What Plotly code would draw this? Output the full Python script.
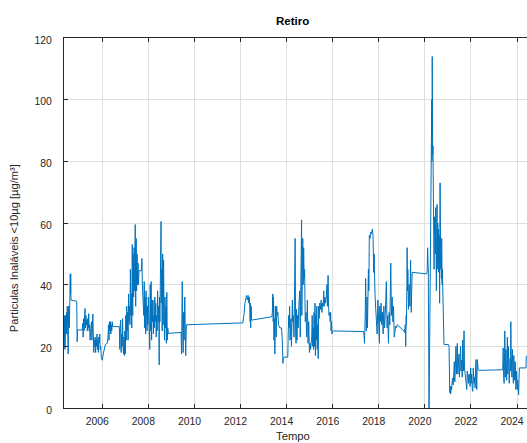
import plotly.graph_objects as go

# Readings (decimal year, PM10 in µg/m³) per period
p2004_2006 = [
    (2004.33, 27), (2004.34, 20), (2004.35, 29), (2004.36, 22), (2004.37, 30), (2004.38, 19),
    (2004.39, 27), (2004.40, 25), (2004.41, 30), (2004.42, 24), (2004.43, 28), (2004.44, 26),
    (2004.45, 31), (2004.46, 24), (2004.47, 28), (2004.48, 33), (2004.49, 25), (2004.50, 29),
    (2004.51, 22), (2004.52, 17.5), (2004.53, 26), (2004.54, 33), (2004.55, 28), (2004.56, 30),
    (2004.57, 26), (2004.58, 34), (2004.59, 38), (2004.60, 36), (2004.61, 43.5), (2004.62, 37),
    (2004.63, 43.5), (2004.64, 36), (2004.65, 35), (2004.89, 34.6), (2004.90, 28), (2004.91, 21.5),
    (2004.92, 25.3), (2005.13, 25.3), (2005.15, 27.5), (2005.17, 23), (2005.19, 29), (2005.21, 25),
    (2005.23, 28), (2005.25, 32.3), (2005.27, 26), (2005.29, 30), (2005.31, 27), (2005.33, 28.5),
    (2005.35, 25), (2005.37, 29), (2005.39, 26), (2005.41, 30.6), (2005.43, 25), (2005.45, 27),
    (2005.47, 22), (2005.49, 26), (2005.51, 24), (2005.53, 28), (2005.55, 22), (2005.57, 27),
    (2005.59, 30.5), (2005.61, 24), (2005.63, 18), (2005.65, 22), (2005.67, 20), (2005.69, 23),
    (2005.71, 18), (2005.73, 22.5), (2005.75, 20), (2005.77, 24), (2005.79, 19), (2005.81, 22),
    (2005.83, 18), (2005.85, 23), (2005.87, 21), (2005.89, 24), (2005.91, 19), (2005.93, 20),
    (2005.96, 16.3), (2006.00, 15.5), (2006.03, 17), (2006.06, 18.5), (2006.09, 19.5), (2006.13, 20.5),
    (2006.17, 20.8), (2006.22, 21), (2006.25, 23), (2006.27, 27), (2006.29, 22), (2006.31, 28),
    (2006.33, 25), (2006.35, 28), (2006.37, 24), (2006.39, 27), (2006.41, 25), (2006.43, 28),
    (2006.45, 26.4), (2006.74, 26.4),
]

p2006_2009 = [
    (2006.76, 19), (2006.78, 27), (2006.80, 28.5), (2006.82, 18), (2006.84, 24), (2006.86, 20),
    (2006.88, 29), (2006.90, 21), (2006.92, 17.5), (2006.94, 23), (2006.96, 17), (2006.98, 25),
    (2007.00, 17.6), (2007.02, 30), (2007.04, 22), (2007.06, 33), (2007.08, 25), (2007.10, 31),
    (2007.12, 22), (2007.14, 37), (2007.16, 28), (2007.18, 33), (2007.20, 27), (2007.22, 45),
    (2007.24, 30), (2007.26, 37), (2007.28, 26), (2007.30, 53), (2007.32, 30), (2007.34, 50),
    (2007.36, 36), (2007.38, 52), (2007.40, 38), (2007.43, 59.5), (2007.45, 33), (2007.47, 55),
    (2007.49, 38), (2007.51, 50), (2007.53, 40), (2007.55, 47), (2007.57, 40), (2007.59, 44.5),
    (2007.70, 44.5), (2007.72, 48.5), (2007.74, 40), (2007.76, 33), (2007.78, 36), (2007.80, 30),
    (2007.82, 41), (2007.84, 26), (2007.86, 36), (2007.88, 24), (2007.90, 38), (2007.92, 30),
    (2007.94, 25), (2007.96, 33), (2007.98, 27), (2008.00, 36), (2008.02, 24), (2008.04, 31),
    (2008.06, 19), (2008.08, 40), (2008.10, 25), (2008.12, 41), (2008.14, 22), (2008.16, 35),
    (2008.18, 28), (2008.20, 35), (2008.22, 24), (2008.24, 30), (2008.26, 26), (2008.28, 36),
    (2008.30, 28), (2008.32, 34), (2008.34, 23), (2008.36, 30), (2008.38, 25), (2008.40, 38),
    (2008.42, 28), (2008.44, 33), (2008.46, 25), (2008.47, 14), (2008.48, 36), (2008.50, 28),
    (2008.52, 38), (2008.55, 60.5), (2008.56, 34), (2008.58, 45), (2008.60, 25), (2008.62, 50),
    (2008.64, 27), (2008.66, 48), (2008.68, 32), (2008.70, 22), (2008.72, 36), (2008.74, 26),
    (2008.76, 33), (2008.78, 21), (2008.80, 37.5), (2008.82, 22), (2008.84, 26), (2008.87, 24.2),
    (2009.42, 24.5), (2009.44, 17.5), (2009.47, 41), (2009.49, 27), (2009.51, 18), (2009.53, 31),
    (2009.55, 22), (2009.58, 36), (2009.60, 20), (2009.62, 17), (2009.64, 25), (2009.66, 27),
]

p2012 = [
    (2012.10, 27.6), (2012.13, 29), (2012.16, 31), (2012.19, 34), (2012.22, 36), (2012.26, 36.5),
    (2012.30, 35), (2012.33, 36.5), (2012.36, 34), (2012.38, 36), (2012.40, 33), (2012.42, 28),
    (2012.43, 34), (2012.44, 26), (2012.46, 33), (2012.48, 28.5),
]

p2013_2016 = [
    (2013.36, 29.6), (2013.38, 31), (2013.40, 37), (2013.42, 28), (2013.43, 36), (2013.45, 22),
    (2013.47, 29), (2013.49, 17.5), (2013.51, 33), (2013.53, 28), (2013.55, 23), (2013.57, 33),
    (2013.59, 30), (2013.62, 31), (2013.65, 27), (2013.70, 26), (2013.78, 26), (2013.81, 22),
    (2013.84, 14.5), (2013.86, 16), (2013.88, 16.5), (2014.05, 16.5), (2014.07, 24), (2014.09, 30),
    (2014.11, 26), (2014.13, 33), (2014.15, 22), (2014.17, 28), (2014.19, 29), (2014.21, 20),
    (2014.23, 27), (2014.25, 35), (2014.27, 28), (2014.29, 30), (2014.32, 23), (2014.34, 33),
    (2014.37, 55), (2014.39, 25), (2014.41, 21), (2014.43, 32), (2014.45, 22), (2014.47, 30),
    (2014.50, 26), (2014.53, 33), (2014.57, 38), (2014.59, 23), (2014.61, 36), (2014.63, 47),
    (2014.65, 61), (2014.66, 30), (2014.68, 41), (2014.70, 55), (2014.72, 40), (2014.74, 52),
    (2014.76, 42), (2014.78, 45), (2014.81, 28), (2014.84, 31), (2014.87, 23), (2014.90, 35),
    (2014.93, 21), (2014.96, 28), (2014.99, 18), (2015.02, 21), (2015.04, 19), (2015.07, 22),
    (2015.09, 23), (2015.11, 30), (2015.13, 20), (2015.15, 26), (2015.17, 19), (2015.19, 31),
    (2015.21, 20), (2015.23, 34), (2015.25, 17), (2015.27, 30), (2015.29, 22), (2015.31, 33),
    (2015.33, 19), (2015.35, 27), (2015.37, 16), (2015.39, 33), (2015.41, 29), (2015.44, 34),
    (2015.47, 32), (2015.50, 35), (2015.53, 31), (2015.56, 34), (2015.59, 33), (2015.61, 38),
    (2015.63, 33), (2015.66, 36), (2015.69, 34), (2015.72, 36), (2015.75, 40), (2015.77, 33),
    (2015.80, 43), (2015.82, 33), (2015.84, 30), (2015.87, 31), (2015.89, 28), (2015.91, 31),
    (2015.93, 25), (2015.95, 28), (2015.97, 24), (2016.00, 25),
]

p2017_2020 = [
    (2017.35, 24.8), (2017.38, 21), (2017.41, 30), (2017.43, 42), (2017.45, 28), (2017.46, 25),
    (2017.48, 33), (2017.49, 36), (2017.51, 26), (2017.52, 32), (2017.55, 45), (2017.57, 38),
    (2017.59, 56), (2017.62, 55), (2017.65, 57), (2017.68, 56.5), (2017.72, 58), (2017.75, 56),
    (2017.78, 44), (2017.80, 50), (2017.81, 45), (2017.84, 36), (2017.86, 32), (2017.88, 34),
    (2017.91, 28), (2017.93, 24), (2017.96, 35), (2017.99, 29), (2018.03, 21), (2018.04, 33),
    (2018.07, 28), (2018.10, 34), (2018.13, 27), (2018.16, 31), (2018.19, 24), (2018.22, 33),
    (2018.25, 26), (2018.28, 30), (2018.30, 35), (2018.33, 41), (2018.36, 26), (2018.39, 30),
    (2018.42, 21), (2018.45, 31), (2018.48, 27), (2018.51, 36), (2018.52, 47), (2018.55, 30),
    (2018.58, 36), (2018.61, 28), (2018.64, 33), (2018.67, 23), (2018.70, 26), (2018.73, 26.5),
    (2018.77, 26), (2018.80, 27), (2019.09, 25), (2019.12, 24.5), (2019.15, 27), (2019.17, 20),
    (2019.19, 30), (2019.20, 27), (2019.22, 40), (2019.23, 52), (2019.25, 38), (2019.26, 45),
    (2019.29, 32), (2019.32, 40), (2019.35, 33), (2019.38, 48), (2019.41, 31), (2019.42, 36),
    (2019.45, 44), (2020.08, 43.5),
]

p2020_2022 = [
    (2020.10, 44.5), (2020.12, 52), (2020.15, 44), (2020.18, 0), (2020.21, 22), (2020.24, 44),
    (2020.27, 88), (2020.30, 100), (2020.31, 80), (2020.32, 114), (2020.34, 82), (2020.35, 85),
    (2020.37, 59), (2020.40, 45), (2020.42, 62), (2020.43, 52), (2020.45, 58), (2020.46, 50),
    (2020.47, 65), (2020.49, 42), (2020.50, 38), (2020.52, 60), (2020.53, 66), (2020.54, 45),
    (2020.56, 60), (2020.57, 48), (2020.59, 58), (2020.60, 44), (2020.62, 56), (2020.63, 55),
    (2020.64, 34), (2020.66, 73), (2020.67, 55), (2020.69, 45), (2020.70, 50), (2020.72, 42),
    (2020.73, 55), (2020.75, 40), (2020.76, 45), (2020.79, 25.7), (2020.82, 25), (2020.83, 20.6),
    (2021.02, 20.6), (2021.05, 20), (2021.08, 5), (2021.10, 7), (2021.12, 4.5), (2021.14, 7),
    (2021.16, 6), (2021.19, 9), (2021.21, 9.7), (2021.23, 7.5), (2021.26, 12), (2021.28, 15),
    (2021.30, 8.5), (2021.33, 14), (2021.35, 20), (2021.37, 11), (2021.39, 18), (2021.41, 21),
    (2021.43, 11), (2021.46, 16), (2021.48, 17.5), (2021.50, 10), (2021.53, 14), (2021.55, 20),
    (2021.57, 12), (2021.60, 15.5), (2021.62, 10), (2021.64, 22), (2021.66, 15.5), (2021.68, 12),
    (2021.70, 25), (2021.72, 13), (2021.74, 11), (2021.77, 9), (2021.80, 6), (2021.82, 6),
    (2021.84, 12), (2021.87, 8), (2021.89, 8), (2021.91, 11), (2021.93, 11), (2021.96, 7),
    (2021.99, 13), (2022.01, 8), (2022.03, 11), (2022.06, 6), (2022.08, 5.4), (2022.10, 13),
    (2022.13, 8), (2022.16, 10), (2022.18, 6.5), (2022.20, 12), (2022.22, 15.7), (2022.25, 6),
    (2022.28, 15.7), (2022.31, 12.5), (2022.34, 12.2),
]

p2023_2024 = [
    (2023.38, 12.4), (2023.40, 19.5), (2023.42, 10), (2023.44, 8), (2023.46, 18), (2023.47, 25),
    (2023.49, 10), (2023.51, 15), (2023.52, 19), (2023.54, 11), (2023.55, 9), (2023.57, 17),
    (2023.58, 23), (2023.60, 11), (2023.61, 13), (2023.63, 20), (2023.64, 16), (2023.66, 8),
    (2023.67, 10), (2023.69, 14), (2023.70, 16), (2023.72, 12), (2023.73, 28), (2023.75, 17),
    (2023.77, 12), (2023.78, 10), (2023.80, 19), (2023.81, 16), (2023.83, 11), (2023.84, 8),
    (2023.86, 17), (2023.87, 14.5), (2023.89, 11), (2023.90, 9), (2023.92, 15), (2023.93, 12),
    (2023.95, 6), (2023.96, 7), (2023.98, 12), (2023.99, 10), (2024.01, 6), (2024.03, 9),
    (2024.04, 8), (2024.06, 5), (2024.07, 4.3), (2024.10, 13), (2024.39, 13), (2024.40, 16.5),
    (2024.43, 17),
]

year_ticks = [2006, 2008, 2010, 2012, 2014, 2016, 2018, 2020, 2022, 2024]
value_ticks = [0, 20, 40, 60, 80, 100, 120]

readings = p2004_2006 + p2006_2009 + p2012 + p2013_2016 + p2017_2020 + p2020_2022 + p2023_2024
t = [r[0] for r in readings]
v = [r[1] for r in readings]

FONT = "Liberation Sans, Arial, sans-serif"
AX = "#262626"
GRID = "#dfdfdf"

fig = go.Figure(go.Scatter(x=t, y=v, mode="lines",
                           line=dict(color="#0072BD", width=1), showlegend=False))

fig.update_layout(
    width=527, height=443,
    margin=dict(l=64, r=0, t=38, b=35),
    paper_bgcolor="white", plot_bgcolor="white",
    font=dict(family=FONT, size=10.4, color=AX),
)
fig.update_xaxes(
    range=[2004.338, 2024.433], tickmode="array", tickvals=year_ticks,
    ticktext=[str(y) for y in year_ticks],
    ticks="inside", ticklen=4, tickcolor=AX, tickwidth=1,
    showline=True, linecolor=AX, linewidth=1, mirror="ticks",
    showgrid=True, gridcolor=GRID, gridwidth=1, zeroline=False,
    ticklabelstandoff=4, ticklabelshift=-5, ticklabeloverflow="allow",
    tickfont=dict(family=FONT, size=10.4, color=AX),
)
fig.update_yaxes(
    range=[0, 120], tickmode="array", tickvals=value_ticks,
    ticks="inside", ticklen=4, tickcolor=AX, tickwidth=1,
    showline=True, linecolor=AX, linewidth=1, mirror=False,
    showgrid=True, gridcolor=GRID, gridwidth=1, zeroline=False,
    ticklabelstandoff=9, ticklabelshift=2,
    tickfont=dict(family=FONT, size=10.4, color=AX),
)

fig.add_annotation(text="<b>Retiro</b>", xref="paper", yref="paper",
                   x=(292.5 - 64) / 463, y=(408 - 21) / 370.3,
                   xanchor="center", yanchor="middle", showarrow=False,
                   font=dict(family=FONT, size=11.5, color="#000000"))
fig.add_annotation(text="Tempo", xref="paper", yref="paper",
                   x=(292.5 - 64) / 463, y=(408 - 436) / 370.3,
                   xanchor="center", yanchor="middle", showarrow=False,
                   font=dict(family=FONT, size=11.3, color=AX))
fig.add_annotation(text="Particulas Inaláveis <10µg [µg/m³]", xref="paper", yref="paper",
                   x=(14 - 64) / 463, y=(408 - 248) / 370.3, textangle=-90,
                   xanchor="center", yanchor="middle", showarrow=False,
                   font=dict(family=FONT, size=11.1, color=AX))

fig.write_html("out.html")
